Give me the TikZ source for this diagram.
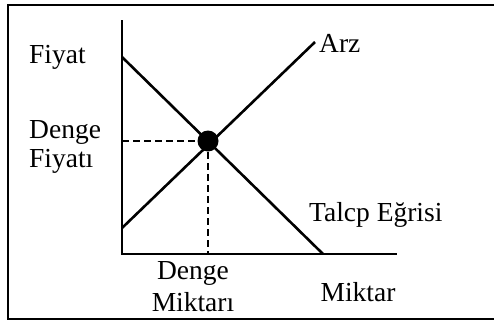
\documentclass[tikz,border=0pt]{standalone}
\usepackage{fontspec}
\setmainfont{Liberation Serif}
\begin{document}
\begin{tikzpicture}[x=1pt,y=-1pt,
  lbl/.style={font=\fontsize{27.5}{29}\selectfont, inner sep=0pt},
  axisline/.style={line width=2pt},
  curve/.style={line width=2.6pt},
  guide/.style={line width=1.8pt, dash pattern=on 7pt off 4pt},
  frame/.style={line width=2pt}]
\useasboundingbox (0,0) rectangle (494,324);
% frame (no right side visible)
\draw[frame] (494,5) -- (8,5) -- (8,319) -- (494,319);
% axes
\coordinate (ytop) at (122,20);
\coordinate (o) at (122,254);
\coordinate (xend) at (397,254);
\draw[axisline] (ytop) -- (o) -- (xend);
% curves
\coordinate (d0) at (122,57);
\coordinate (d1) at (323,254);
\coordinate (s0) at (122,228);
\coordinate (s1) at (315,42);
\draw[curve] (d0) -- (d1);
\draw[curve] (s0) -- (s1);
% equilibrium
\node[circle, fill=black, minimum size=21pt, inner sep=0pt] (eq) at (208,141) {};
\coordinate (py) at (122,141);
\coordinate (qx) at (208,254);
\draw[guide] (py) -- (eq.center);
\draw[guide] (eq.center) -- (qx);
% labels
\node[lbl, anchor=west] (fiyat) at (29,57) {Fiyat};
\node[lbl, anchor=west] (dfy1) at (29,132) {Denge};
\node[lbl, anchor=west] (dfy2) at (29,161) {Fiyatı};
\node[lbl, anchor=west] (arz) at (319,43) {Arz};
\node[lbl, anchor=west] (talep) at (309,215) {Talcp Eğrisi};
\node[lbl] (dm1) at (193,273) {Denge};
\node[lbl] (dm2) at (193,302) {Miktarı};
\node[lbl] (miktar) at (358,292) {Miktar};
\end{tikzpicture}
\end{document}
